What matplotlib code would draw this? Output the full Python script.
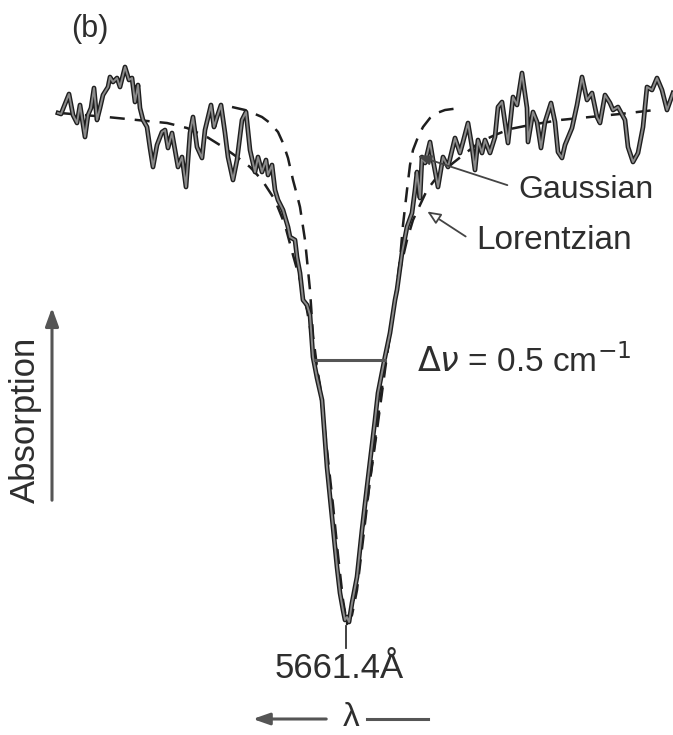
import matplotlib
matplotlib.use("Agg")
import matplotlib.pyplot as plt
import matplotlib.patheffects as pe

trace_x = [58, 61, 69, 73, 77, 80, 85, 88, 91, 94, 97, 100, 103, 108, 110, 113, 117, 120, 125, 129,
           132, 135, 138, 140, 143, 147, 150, 153, 157, 162, 165, 168, 172, 178, 182, 186, 190, 193,
           197, 202, 205, 211, 214, 217, 221, 225, 228, 233, 237, 242, 246, 250, 255, 258, 262, 266,
           268, 272, 275, 278, 283, 288, 290, 295, 297, 300, 303, 307, 310, 313, 317, 322, 327, 332,
           337, 340, 343, 345, 347, 349, 352, 357, 362, 367, 375, 378, 385, 390, 395, 397, 402, 407,
           412, 415, 417, 420, 422, 425, 430, 433, 438, 443, 448, 455, 460, 463, 468, 472, 475, 478,
           482, 485, 490, 495, 498, 502, 508, 513, 517, 522, 527, 528, 533, 537, 541, 545, 551, 555,
           558, 562, 565, 572, 577, 582, 587, 592, 597, 600, 605, 610, 613, 618, 625, 628, 633, 638,
           643, 647, 652, 657, 662, 667, 673]
trace_y = [113, 114, 94, 115, 123, 105, 137, 115, 108, 88, 120, 108, 95, 87, 77, 82, 78, 87, 67, 80,
           78, 102, 85, 108, 120, 127, 148, 167, 145, 132, 130, 148, 133, 167, 157, 187, 133, 117,
           147, 158, 130, 105, 127, 117, 105, 133, 157, 180, 160, 120, 112, 150, 172, 157, 172, 160,
           175, 165, 190, 200, 210, 227, 237, 240, 257, 273, 300, 305, 315, 357, 378, 400, 467, 517,
           567, 593, 610, 620, 617, 622, 603, 577, 530, 487, 420, 393, 357, 333, 300, 290, 253, 227,
           213, 190, 172, 198, 157, 163, 142, 160, 187, 157, 167, 138, 153, 142, 123, 147, 170, 140,
           153, 140, 153, 137, 107, 102, 143, 97, 105, 73, 108, 142, 112, 122, 148, 122, 103, 122,
           152, 158, 145, 128, 105, 77, 100, 93, 117, 123, 95, 103, 110, 107, 120, 147, 162, 153,
           127, 87, 90, 78, 90, 110, 93]

gauss_x = [232, 245, 255, 262, 270, 278, 283, 288, 293, 297, 300, 305, 310, 313, 318, 323, 328, 333,
           338, 342, 347, 352, 357, 363, 370, 377, 385, 390, 395, 400, 403, 407, 410, 413, 418, 423,
           430, 437, 445, 460]
gauss_y = [107, 110, 114, 117, 123, 132, 143, 158, 180, 195, 207, 240, 290, 335, 375, 415, 465, 515,
           565, 600, 622, 615, 590, 540, 480, 425, 365, 335, 300, 260, 225, 190, 165, 150, 137, 127,
           118, 113, 110, 108]

lor_x = [60, 107, 127, 147, 167, 187, 207, 223, 237, 250, 262, 275, 285, 293, 300, 307, 313, 320,
         327, 333, 338, 343, 347, 352, 357, 362, 368, 377, 385, 392, 400, 407, 413, 420, 427, 437,
         453, 467, 480, 495, 510, 530, 560, 590, 620, 655]
lor_y = [113, 117, 119, 121, 123, 128, 137, 147, 157, 167, 180, 200, 225, 255, 280, 310, 345, 385,
         450, 505, 555, 600, 624, 610, 580, 540, 495, 430, 370, 320, 270, 240, 220, 205, 190, 177,
         163, 152, 142, 135, 129, 125, 120, 117, 114, 110]

fwhm_x = [315, 385]
fwhm_y = 360
centre_x = 346
centre_label = "5661.4Å"
width_label = r"$\Delta\nu$ = 0.5 cm$^{-1}$"

# ---- drawing ----
plt.rcParams['font.family'] = ['Liberation Sans', 'DejaVu Sans']
plt.rcParams['mathtext.fontset'] = 'dejavusans'
ink = '#2e2e2e'

fig = plt.figure(figsize=(6.73, 7.35), dpi=100)
ax = fig.add_axes([0, 0, 1, 1])
ax.set_xlim(0, 673)
ax.set_ylim(735, 0)
ax.axis('off')

ax.plot(trace_x, trace_y, color='#8a8a8a', lw=1.4, solid_joinstyle='round', zorder=3,
        path_effects=[pe.Stroke(linewidth=3.4, foreground='#1e1e1e'), pe.Normal()])
ax.plot(gauss_x, gauss_y, color='#1e1e1e', lw=1.8, dashes=(6, 4), zorder=2)
ax.plot(lor_x, lor_y, color='#1e1e1e', lw=1.8, dashes=(6, 4), zorder=2)

ax.plot(fwhm_x, [fwhm_y, fwhm_y], color='#555555', lw=2.2, zorder=4)
ax.text(417, fwhm_y + 2, width_label, fontsize=24, color=ink, ha='left', va='center')

ax.annotate('', xy=(415, 155), xytext=(510, 186),
            arrowprops=dict(arrowstyle='-|>,head_length=0.8,head_width=0.3', color='#444', lw=1.3))
ax.text(518, 190, 'Gaussian', fontsize=23, color=ink, ha='left', va='center')
ax.annotate('', xy=(425, 210), xytext=(468, 238),
            arrowprops=dict(arrowstyle='-|>,head_length=0.8,head_width=0.35', ec='#444', fc='white', lw=1.3))
ax.text(476, 240, 'Lorentzian', fontsize=24, color=ink, ha='left', va='center')

ax.text(90, 29, '(b)', fontsize=22, color=ink, ha='center', va='center')

ax.text(25, 420, 'Absorption', fontsize=25, color=ink, rotation=90, ha='center', va='center')
ax.annotate('', xy=(52, 305), xytext=(52, 503),
            arrowprops=dict(arrowstyle='-|>,head_length=1.1,head_width=0.4', color='#555', lw=2.2))

ax.plot([centre_x, centre_x], [626, 648], color='#333', lw=1.3)
ax.text(centre_x - 7, 669, centre_label, fontsize=25, color=ink, ha='center', va='center')

ax.annotate('', xy=(250, 719), xytext=(329, 719),
            arrowprops=dict(arrowstyle='-|>,head_length=1.0,head_width=0.35', color='#555', lw=2.2))
ax.text(351, 717, 'λ', fontsize=24, color=ink, ha='center', va='center')
ax.plot([367, 428], [719, 719], color='#555', lw=2.2)

fig.savefig('out.png', dpi=100)
